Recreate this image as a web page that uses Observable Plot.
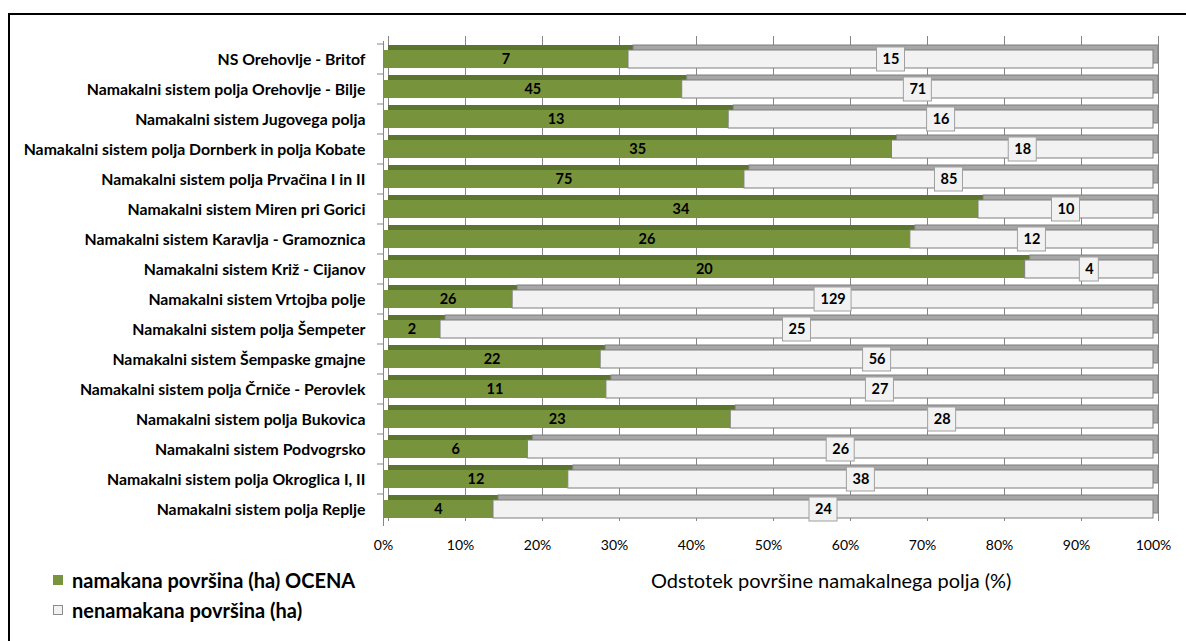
<!DOCTYPE html>
<html><head><meta charset="utf-8">
<script src="https://cdn.jsdelivr.net/npm/d3@7"></script>
<script src="https://cdn.jsdelivr.net/npm/@observablehq/plot@0.6"></script>
<style>
html,body{margin:0;padding:0;background:#fff;width:1186px;height:641px;overflow:hidden;font-family:Lato,sans-serif;}
#frame{position:absolute;left:8px;top:13px;width:1200px;height:700px;border-left:2px solid #000;border-top:2px solid #000;}
#chart{position:absolute;left:0;top:0;}
#xtitle{position:absolute;left:651px;top:568px;font-size:20px;line-height:24px;color:#000;white-space:nowrap}
#legend{position:absolute;left:53px;top:565px;}
.item{display:flex;align-items:center;font-weight:bold;font-size:20px;height:30px;color:#000;white-space:nowrap}
.sw{width:10px;height:10px;margin-right:9px;box-sizing:border-box}
</style></head><body>
<div id="frame"></div>
<div id="chart"></div>
<div id="xtitle"></div>
<div id="legend"></div>
<script>
const categories = [
  "NS Orehovlje - Britof",
  "Namakalni sistem polja Orehovlje - Bilje",
  "Namakalni sistem Jugovega polja",
  "Namakalni sistem polja Dornberk in polja Kobate",
  "Namakalni sistem polja Prvačina I in II",
  "Namakalni sistem Miren pri Gorici",
  "Namakalni sistem Karavlja - Gramoznica",
  "Namakalni sistem Križ - Cijanov",
  "Namakalni sistem Vrtojba polje",
  "Namakalni sistem polja Šempeter",
  "Namakalni sistem Šempaske gmajne",
  "Namakalni sistem polja Črniče - Perovlek",
  "Namakalni sistem polja Bukovica",
  "Namakalni sistem Podvogrsko",
  "Namakalni sistem polja Okroglica I, II",
  "Namakalni sistem polja Replje"
];
const irrigated    = [7, 45, 13, 35, 75, 34, 26, 20, 26, 2, 22, 11, 23, 6, 12, 4];
const nonIrrigated = [15, 71, 16, 18, 85, 10, 12, 4, 129, 25, 56, 27, 28, 26, 38, 24];
const seriesNames = ["namakana površina (ha) OCENA", "nenamakana površina (ha)"];
const xTicks = [0, 0.1, 0.2, 0.3, 0.4, 0.5, 0.6, 0.7, 0.8, 0.9, 1];
const axisTitle = "Odstotek površine namakalnega polja (%)";

const GREEN = "#77933C", GREEN_TOP = "#5B742E", WHITE = "#F2F2F2", WHITE_TOP = "#A6A6A6", EDGE = "#7F7F7F", GRID = "#868686";

// table built from the arrays (normalized stack)
const green = categories.map((c, i) => {
  const t = irrigated[i] + nonIrrigated[i];
  return {cat: c, v: irrigated[i], x1: 0, x2: irrigated[i] / t};
});
const white = categories.map((c, i) => {
  const t = irrigated[i] + nonIrrigated[i];
  return {cat: c, v: nonIrrigated[i], x1: irrigated[i] / t, x2: 1};
});
const mid = d => (d.x1 + d.x2) / 2;
const D = 5; // 3D depth (px)

function box(digits) {
  const w = 5 + 4.5 * digits;
  return Plot.barX(white.filter(d => String(d.v).length === digits), {
    x1: mid, x2: mid, y: "cat",
    insetLeft: -w, insetRight: -w, insetTop: -3, insetBottom: -3,
    fill: WHITE, stroke: "#A0A0A0", strokeWidth: 1
  });
}

const chart = Plot.plot({
  width: 1186,
  height: 560,
  marginTop: 41,
  marginBottom: 34,
  marginLeft: 383,
  marginRight: 33,
  style: {fontFamily: "Lato, sans-serif", fontSize: "14px", color: "#000", background: "transparent"},
  x: {domain: [0, 1]},
  y: {domain: categories, paddingInner: 0.407, paddingOuter: 0.2},
  marks: [
    Plot.ruleX(xTicks, {dx: D, dy: -D, stroke: GRID, strokeWidth: 1}),
    Plot.ruleX([0], {stroke: GRID, strokeWidth: 1}),
    Plot.axisY({tickSize: 6, tickFormat: () => "", dy: -15.5, stroke: GRID, label: null}),
    Plot.axisY({tickSize: 0, tickPadding: 18, fontWeight: "bold", fontSize: 15.8, label: null}),
    Plot.axisX({ticks: xTicks, tickFormat: d3.format(".0%"), tickSize: 0, tickPadding: 14, fontSize: 14, label: null}),
    // back (top / side) faces
    Plot.barX(green, {x1: "x1", x2: "x2", y: "cat", fill: GREEN_TOP, dx: D, dy: -D}),
    Plot.barX(white, {x1: "x1", x2: "x2", y: "cat", fill: WHITE_TOP, stroke: EDGE, strokeWidth: 1, dx: D, dy: -D}),
    // front faces
    Plot.barX(green, {x1: "x1", x2: "x2", y: "cat", fill: GREEN}),
    Plot.barX(white, {x1: "x1", x2: "x2", y: "cat", fill: WHITE, stroke: EDGE, strokeWidth: 1}),
    // labels
    Plot.text(green, {x: mid, y: "cat", text: "v", fontWeight: "bold", fontSize: 14.5, fill: "#000"}),
    box(1), box(2), box(3),
    Plot.text(white, {x: mid, y: "cat", text: "v", fontWeight: "bold", fontSize: 14.5, fill: "#000"})
  ]
});
document.getElementById("chart").append(chart);
document.getElementById("xtitle").textContent = axisTitle;

const legend = document.getElementById("legend");
[[seriesNames[0], GREEN, GREEN], [seriesNames[1], WHITE, "#8C8C8C"]].forEach(([name, fill, stroke]) => {
  const it = document.createElement("div");
  it.className = "item";
  const sw = document.createElement("span");
  sw.className = "sw";
  sw.style.background = fill;
  sw.style.border = "1px solid " + stroke;
  it.append(sw, document.createTextNode(name));
  legend.append(it);
});
</script>
</body></html>
